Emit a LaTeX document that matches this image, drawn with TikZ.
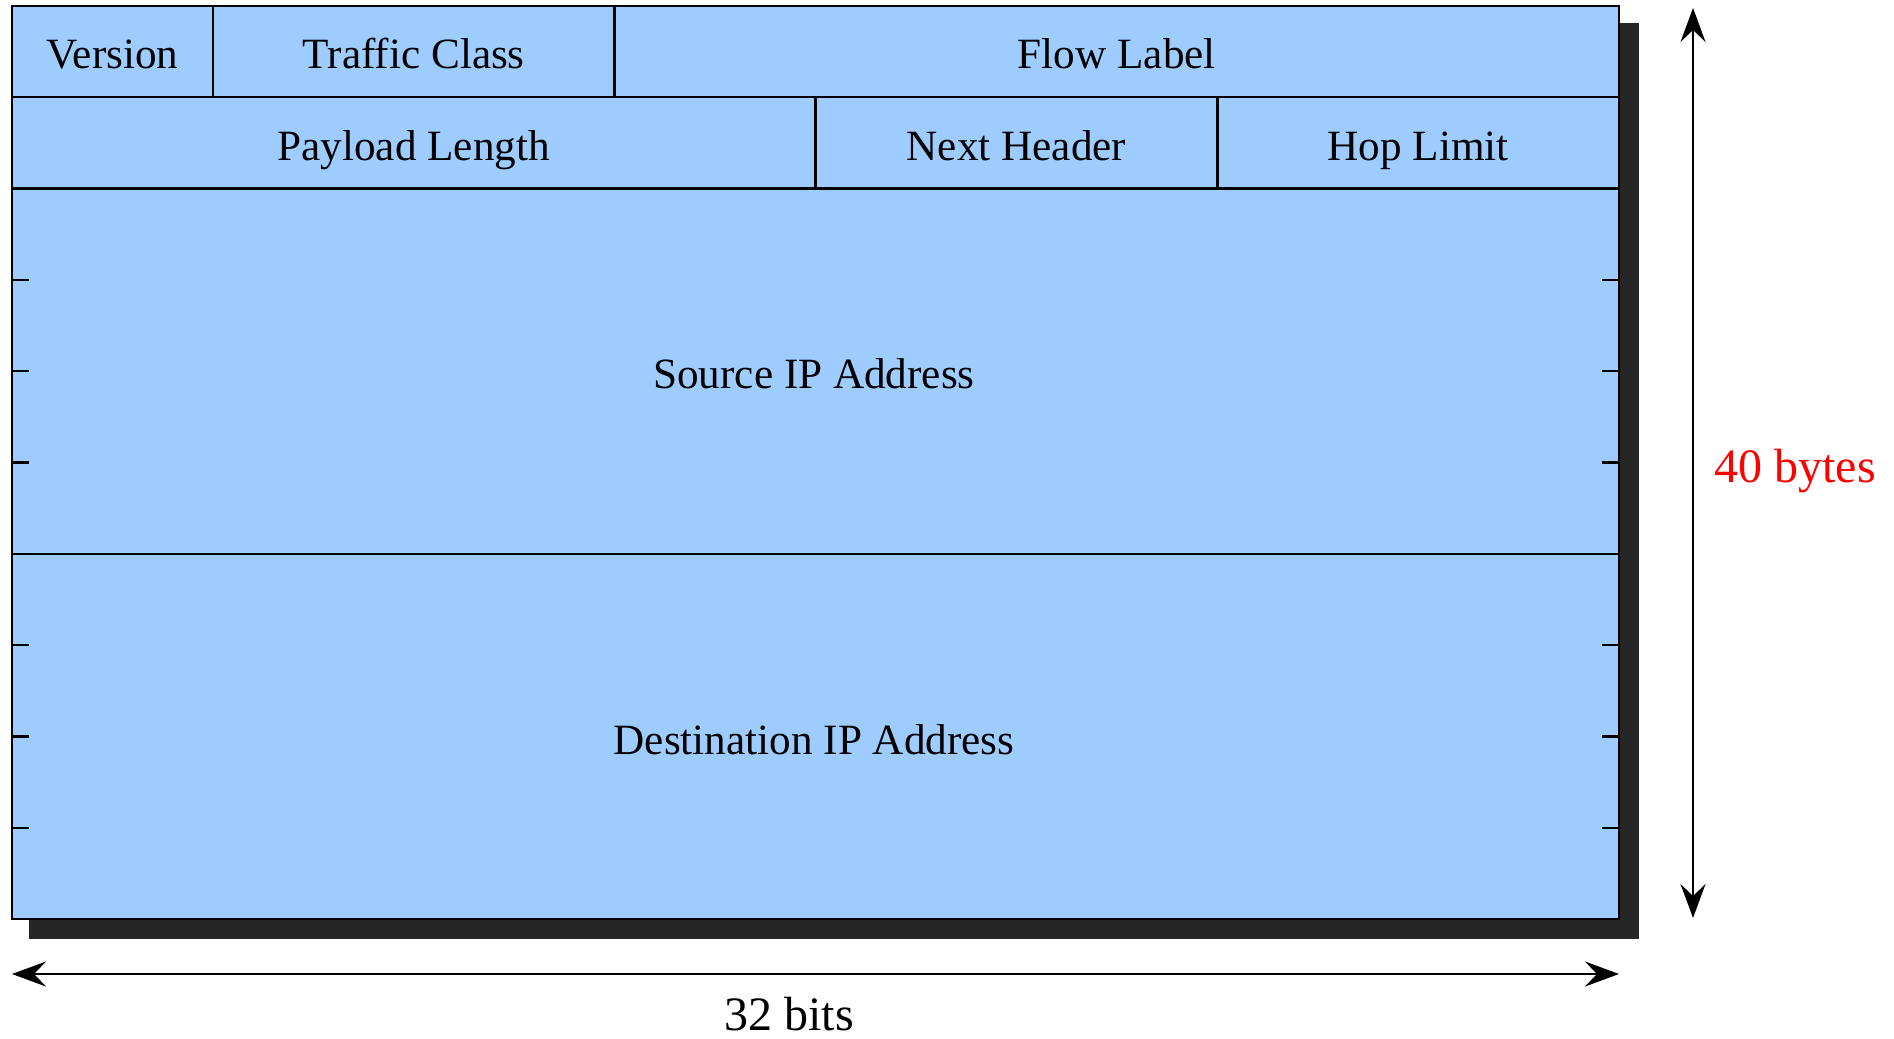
\documentclass[tikz,border=0pt]{standalone}
\usepackage{fontspec}
\setmainfont{Liberation Serif}
\usetikzlibrary{arrows.meta}
\definecolor{fieldblue}{RGB}{158,204,255}
\definecolor{shadowgray}{RGB}{38,38,38}
\definecolor{bytered}{RGB}{255,0,0}
\begin{document}
\begin{tikzpicture}[x=0.5pt,y=-0.5pt,
  field/.style={draw=black, line width=1.2pt, fill=fieldblue, inner sep=0pt,
    font=\fontsize{21.6}{25}\selectfont, text=black, text height=19pt, text depth=1.8pt},
  bigfield/.style={draw=black, line width=1.2pt, fill=fieldblue, inner sep=0pt},
  fieldtext/.style={font=\fontsize{21.6}{25}\selectfont, inner sep=0pt},
  tick/.style={line width=1.2pt, draw=black},
  dimarrow/.style={line width=1.2pt, {Stealth[length=17pt,width=12.5pt,inset=6pt]}-{Stealth[length=17pt,width=12.5pt,inset=6pt]}},
  dimlabel/.style={font=\fontsize{24}{28}\selectfont, inner sep=0pt}]
\useasboundingbox (0,0) rectangle (1894,1038);
% shadow
\fill[shadowgray] (29,23) rectangle (1639,939);
% fields
\node[field, minimum width=100.5pt, minimum height=45.65pt] (ver) at (112.5,51.65) {Version};
\node[field, minimum width=200.8pt, minimum height=45.65pt] (tc) at (413.8,51.65) {Traffic Class};
\node[field, minimum width=502.2pt, minimum height=45.65pt] (fl) at (1116.8,51.65) {Flow Label};
\node[field, minimum width=401.75pt, minimum height=45.65pt] (pl) at (413.75,142.95) {Payload Length};
\node[field, minimum width=200.9pt, minimum height=45.65pt] (nh) at (1016.4,142.95) {Next Header};
\node[field, minimum width=200.85pt, minimum height=45.65pt] (hl) at (1418.15,142.95) {Hop Limit};
\node[bigfield, minimum width=803.5pt, minimum height=182.7pt] (src) at (815.5,371.3) {};
\node[bigfield, minimum width=803.5pt, minimum height=182.5pt] (dst) at (815.5,736.5) {};
\node[fieldtext] (srct) at (814,374) {Source IP Address};
\node[fieldtext] (dstt) at (814,740) {Destination IP Address};
% ticks
\foreach \yy in {279.9,371.2,462.5,645.1,736.4,827.7}{
  \draw[tick] (12,\yy) -- (29,\yy);
  \draw[tick] (1602,\yy) -- (1619,\yy);
}
% dimension arrows
\coordinate (vt) at (1693,8);
\coordinate (vb) at (1693,918);
\coordinate (hl0) at (12,974);
\coordinate (hr0) at (1619,974);
\draw[dimarrow] (vt) -- (vb);
\draw[dimarrow] (hl0) -- (hr0);
\node[dimlabel, text=bytered] (bytes) at (1795,471) {40 bytes};
\node[dimlabel] (bits) at (789,1014) {32 bits};
\end{tikzpicture}
\end{document}
